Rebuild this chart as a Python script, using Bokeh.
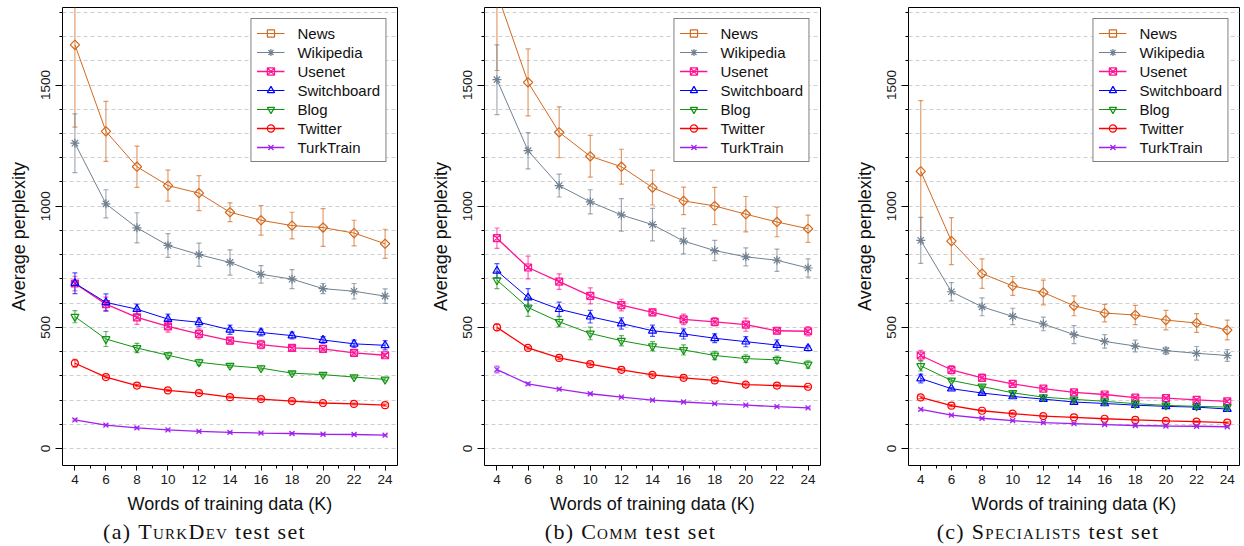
import numpy as np
from bokeh.plotting import figure
from bokeh.models import Range1d, FixedTicker, Whisker, TeeHead, ColumnDataSource, Div
from bokeh.layouts import row, column
from bokeh.embed import file_html
from bokeh.resources import INLINE

# ---------------- data ----------------
words_k = [4, 6, 8, 10, 12, 14, 16, 18, 20, 22, 24]
series_names = ["News", "Wikipedia", "Usenet", "Switchboard", "Blog", "Twitter", "TurkTrain"]

# (a) TurkDev test set
turkdev_news = [1666, 1309, 1163, 1085, 1054, 975, 942, 920, 912, 889, 845]
turkdev_news_err = [340, 124, 85, 64, 72, 39, 61, 55, 78, 53, 60]
turkdev_wikipedia = [1260, 1010, 911, 838, 800, 768, 719, 699, 660, 649, 629]
turkdev_wikipedia_err = [121, 58, 62, 49, 48, 52, 36, 39, 21, 32, 30]
turkdev_usenet = [681, 596, 541, 504, 473, 445, 429, 415, 411, 395, 385]
turkdev_usenet_err = [30, 29, 29, 24, 21, 14, 17, 11, 8, 12, 8]
turkdev_switchboard = [682, 603, 575, 534, 521, 490, 479, 466, 448, 432, 426]
turkdev_switchboard_err = [43, 35, 21, 21, 18, 19, 14, 14, 14, 15, 19]
turkdev_blog = [544, 452, 415, 385, 356, 342, 332, 311, 305, 295, 285]
turkdev_blog_err = [25, 31, 19, 11, 12, 7, 8, 6, 6, 6, 6]
turkdev_twitter = [352, 295, 260, 240, 229, 212, 204, 196, 188, 184, 179]
turkdev_twitter_err = [16, 5, 5, 4, 4, 4, 4, 4, 4, 4, 4]
turkdev_turktrain = [118, 97, 85, 77, 71, 67, 64, 62, 59, 58, 55]
turkdev_turktrain_err = [4, 3, 3, 3, 3, 3, 3, 3, 3, 3, 3]

# (b) Comm test set
comm_news = [1880, 1511, 1305, 1206, 1163, 1077, 1022, 1001, 967, 935, 907]
comm_news_err = [320, 138, 105, 86, 72, 72, 57, 77, 73, 61, 56]
comm_wikipedia = [1522, 1229, 1085, 1018, 964, 924, 856, 817, 791, 777, 745]
comm_wikipedia_err = [144, 75, 47, 50, 67, 67, 53, 42, 37, 46, 38]
comm_usenet = [868, 747, 689, 630, 592, 562, 533, 523, 511, 486, 484]
comm_usenet_err = [42, 47, 32, 33, 24, 14, 22, 17, 27, 13, 19]
comm_switchboard = [733, 623, 575, 544, 516, 486, 473, 455, 441, 427, 414]
comm_switchboard_err = [30, 37, 29, 26, 23, 23, 21, 18, 21, 21, 10]
comm_blog = [695, 582, 523, 475, 445, 422, 407, 384, 371, 366, 347]
comm_blog_err = [35, 37, 21, 26, 21, 19, 21, 17, 16, 15, 15]
comm_twitter = [500, 415, 374, 348, 325, 304, 292, 281, 264, 260, 255]
comm_twitter_err = [14, 5, 6, 6, 5, 5, 5, 5, 6, 5, 4]
comm_turktrain = [326, 267, 245, 226, 212, 200, 192, 185, 179, 173, 168]
comm_turktrain_err = [14, 5, 4, 4, 3, 3, 3, 3, 3, 3, 3]

# (c) Specialists test set
spec_news = [1144, 856, 722, 671, 644, 589, 559, 551, 530, 518, 489]
spec_news_err = [292, 97, 61, 39, 51, 41, 36, 40, 40, 39, 41]
spec_wikipedia = [859, 647, 585, 545, 514, 470, 442, 423, 404, 393, 384]
spec_wikipedia_err = [95, 38, 37, 34, 28, 37, 28, 24, 14, 28, 24]
spec_usenet = [384, 325, 292, 267, 247, 232, 223, 210, 208, 201, 195]
spec_usenet_err = [21, 17, 15, 6, 5, 5, 6, 5, 4, 4, 5]
spec_switchboard = [289, 247, 229, 215, 204, 192, 186, 179, 174, 171, 163]
spec_switchboard_err = [18, 5, 5, 4, 4, 4, 4, 4, 4, 4, 4]
spec_blog = [341, 281, 256, 230, 212, 203, 195, 185, 178, 174, 171]
spec_blog_err = [21, 6, 5, 5, 5, 4, 4, 4, 4, 4, 4]
spec_twitter = [211, 177, 156, 144, 134, 129, 123, 118, 114, 111, 107]
spec_twitter_err = [5, 4, 4, 4, 3, 3, 3, 3, 3, 3, 3]
spec_turktrain = [162, 138, 125, 115, 107, 103, 99, 95, 93, 92, 90]
spec_turktrain_err = [4, 3, 3, 3, 3, 3, 3, 3, 3, 3, 3]

y_major_ticks = [0, 500, 1000, 1500]
x_major_ticks = [4, 6, 8, 10, 12, 14, 16, 18, 20, 22, 24]

# ---------------- styles ----------------
colors = {"News": "#D2691E", "Wikipedia": "#708090", "Usenet": "#FF1493",
          "Switchboard": "#0000FF", "Blog": "#129412", "Twitter": "#FF0000",
          "TurkTrain": "#A020F0"}
markers = {"News": ("square", 6.6, np.pi / 4), "Wikipedia": ("asterisk", 9, 0.0),
           "Usenet": ("square_x", 7, 0.0), "Switchboard": ("triangle", 8, 0.0),
           "Blog": ("inverted_triangle", 8, 0.0), "Twitter": ("circle", 7, 0.0),
           "TurkTrain": ("x", 7, 0.0)}
widths = {"News": 1.0, "Wikipedia": 1.0, "Usenet": 1.3, "Switchboard": 1.0,
          "Blog": 1.0, "Twitter": 1.3, "TurkTrain": 1.3}

SANS = "Liberation Sans"


def make_panel(means, errs, width, left, right):
    p = figure(width=width, height=520, x_range=Range1d(3.2, 24.8),
               y_range=Range1d(-70, 1820), output_backend="svg",
               toolbar_location=None, min_border_left=left,
               min_border_right=right, min_border_top=7, min_border_bottom=55)
    p.outline_line_color = "black"
    p.outline_line_width = 1
    p.xgrid.grid_line_color = None
    p.ygrid.ticker = FixedTicker(ticks=list(range(0, 1900, 100)))
    p.ygrid.grid_line_color = "#cfcfcf"
    p.ygrid.grid_line_dash = "4 3"
    p.ygrid.grid_line_width = 1

    p.xaxis.ticker = FixedTicker(ticks=x_major_ticks,
                                 minor_ticks=list(range(5, 24, 2)))
    p.yaxis.ticker = FixedTicker(ticks=y_major_ticks,
                                 minor_ticks=list(range(0, 1900, 100)))
    for ax in (p.xaxis[0], p.yaxis[0]):
        ax.axis_line_color = None
        ax.major_tick_line_color = "black"
        ax.minor_tick_line_color = "black"
        ax.major_tick_in = 0
        ax.minor_tick_in = 0
        ax.major_label_text_font = SANS
        ax.major_label_text_font_size = "13.5px"
        ax.major_label_text_color = "#1a1a1a"
        ax.axis_label_text_font = SANS
        ax.axis_label_text_font_size = "18px"
        ax.axis_label_text_font_style = "normal"
        ax.axis_label_text_color = "#111111"
    p.xaxis.major_tick_out = 5
    p.xaxis.minor_tick_out = 3
    p.xaxis.major_label_standoff = 4
    p.xaxis.axis_label_standoff = 7
    p.yaxis.major_tick_out = 7
    p.yaxis.minor_tick_out = 3
    p.yaxis.major_label_standoff = 5
    p.yaxis.axis_label_standoff = 10
    p.yaxis.major_label_orientation = "vertical"
    p.xaxis.axis_label = "Words of training data (K)"
    p.yaxis.axis_label = "Average perplexity"

    for name in series_names:
        c = colors[name]
        ys = means[name]
        es = errs[name]
        mk, sz, ang = markers[name]
        src = ColumnDataSource(dict(x=words_k, y=ys,
                                    lo=[m - e for m, e in zip(ys, es)],
                                    hi=[m + e for m, e in zip(ys, es)],
                                    ang=[ang] * len(words_k)))
        wk = Whisker(source=src, base="x", lower="lo", upper="hi",
                     dimension="height", line_color=c, line_alpha=0.65,
                     line_width=1.2,
                     upper_head=TeeHead(size=5, line_color=c, line_alpha=0.65, line_width=1.2),
                     lower_head=TeeHead(size=5, line_color=c, line_alpha=0.65, line_width=1.2))
        p.add_layout(wk)
        p.line("x", "y", source=src, line_color=c, line_width=widths[name],
               legend_label=name)
        p.scatter("x", "y", source=src, marker=mk, size=sz, angle="ang",
                  angle_units="rad", line_color=c, fill_color=None,
                  line_width=1.2, legend_label=name)

    lg = p.legend[0]
    lg.location = "top_right"
    lg.margin = 11
    lg.padding = 5
    lg.spacing = 1
    lg.border_line_color = "black"
    lg.border_line_width = 1
    lg.background_fill_color = "white"
    lg.background_fill_alpha = 1
    lg.label_text_font = SANS
    lg.label_text_font_size = "15px"
    lg.label_text_color = "#111111"
    lg.glyph_width = 28
    lg.glyph_height = 18
    lg.label_height = 18
    lg.label_standoff = 13
    return p


def caption(prefix, sc, width, shift):
    html = ('<div style="font-family:\'Liberation Serif\',serif; font-size:22px; '
            'color:#111; text-align:center; width:%dpx; position:relative; '
            'left:%dpx; letter-spacing:1.3px; line-height:24px; white-space:nowrap;">%s '
            '<span style="font-variant:small-caps">%s</span> test set</div>'
            % (width, shift, prefix, sc))
    return Div(text=html, width=width, height=24, margin=(0, 0, 0, 0))


panels = [
    ({"News": turkdev_news, "Wikipedia": turkdev_wikipedia, "Usenet": turkdev_usenet,
      "Switchboard": turkdev_switchboard, "Blog": turkdev_blog,
      "Twitter": turkdev_twitter, "TurkTrain": turkdev_turktrain},
     {"News": turkdev_news_err, "Wikipedia": turkdev_wikipedia_err,
      "Usenet": turkdev_usenet_err, "Switchboard": turkdev_switchboard_err,
      "Blog": turkdev_blog_err, "Twitter": turkdev_twitter_err,
      "TurkTrain": turkdev_turktrain_err},
     415, 62, 18, "(a)", "TurkDev", -3),
    ({"News": comm_news, "Wikipedia": comm_wikipedia, "Usenet": comm_usenet,
      "Switchboard": comm_switchboard, "Blog": comm_blog,
      "Twitter": comm_twitter, "TurkTrain": comm_turktrain},
     {"News": comm_news_err, "Wikipedia": comm_wikipedia_err,
      "Usenet": comm_usenet_err, "Switchboard": comm_switchboard_err,
      "Blog": comm_blog_err, "Twitter": comm_twitter_err,
      "TurkTrain": comm_turktrain_err},
     415, 69, 10, "(b)", "Comm", 8),
    ({"News": spec_news, "Wikipedia": spec_wikipedia, "Usenet": spec_usenet,
      "Switchboard": spec_switchboard, "Blog": spec_blog,
      "Twitter": spec_twitter, "TurkTrain": spec_turktrain},
     {"News": spec_news_err, "Wikipedia": spec_wikipedia_err,
      "Usenet": spec_usenet_err, "Switchboard": spec_switchboard_err,
      "Blog": spec_blog_err, "Twitter": spec_twitter_err,
      "TurkTrain": spec_turktrain_err},
     412, 78, 3, "(c)", "Specialists", 12),
]

cols = []
for means, errs, w, l, r, pre, sc, sh in panels:
    fig = make_panel(means, errs, w, l, r)
    cols.append(column(fig, caption(pre, sc, w, sh), spacing=0))

layout = row(*cols, spacing=0)
open("out.html", "w").write(file_html(layout, INLINE))
